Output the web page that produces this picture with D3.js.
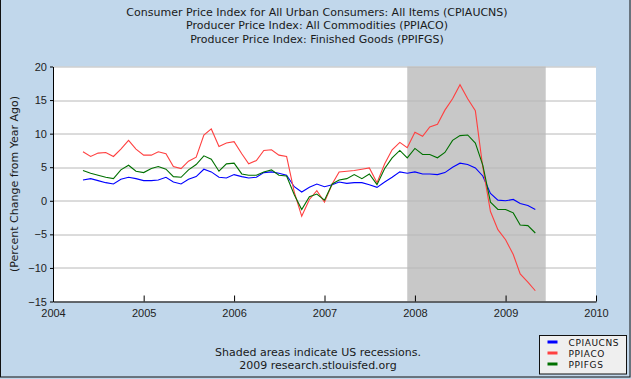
<!DOCTYPE html>
<html>
<head>
<meta charset="utf-8">
<script src="https://cdn.jsdelivr.net/npm/d3@7"></script>
<style>
  body { margin: 0; background: #c1d7eb; }
  svg { display: block; font-family: "DejaVu Sans", Verdana, sans-serif; }
</style>
</head>
<body>
<div id="chart"></div>
<script>
// monthly, May 2004 .. May 2009 (percent change from year ago)
const startMonth = "2004-05-01";
const cpiaucns = [
  3.1, 3.3, 3.0, 2.7, 2.5, 3.2, 3.5, 3.3,
  3.0, 3.0, 3.1, 3.5, 2.8, 2.5, 3.2, 3.6, 4.7, 4.3, 3.5, 3.4,
  3.9, 3.6, 3.4, 3.5, 4.2, 4.3, 4.1, 3.8, 2.1, 1.3, 2.0, 2.5,
  2.1, 2.4, 2.8, 2.6, 2.7, 2.7, 2.4, 2.0, 2.8, 3.5, 4.3, 4.1,
  4.3, 4.0, 4.0, 3.9, 4.2, 5.0, 5.6, 5.4, 4.9, 3.7, 1.1, 0.1,
  0.0, 0.2, -0.4, -0.7, -1.3
];
const ppiaco = [
  7.3, 6.6, 7.1, 7.2, 6.6, 7.7, 9.0, 7.7,
  6.8, 6.8, 7.3, 7.0, 5.1, 4.8, 5.9, 6.5, 9.8, 10.7, 8.1, 8.6,
  8.8, 7.0, 5.5, 6.0, 7.5, 7.6, 6.8, 6.6, 1.3, -2.3, 0.2, 1.5,
  -0.2, 2.5, 4.3, 4.4, 4.5, 4.7, 4.9, 2.7, 5.5, 7.6, 8.7, 7.9,
  10.2, 9.6, 11.0, 11.4, 13.5, 15.2, 17.3, 15.2, 13.4, 5.0, -1.6, -4.3,
  -5.8, -8.0, -10.9, -12.1, -13.4
];
const ppifgs = [
  4.5, 4.1, 3.8, 3.5, 3.3, 4.6, 5.3, 4.4,
  4.2, 4.8, 5.1, 4.7, 3.6, 3.5, 4.6, 5.4, 6.7, 6.2, 4.4, 5.5,
  5.6, 4.0, 3.8, 3.8, 4.3, 4.6, 3.8, 3.7, 0.9, -1.3, 0.6, 1.0,
  0.1, 2.5, 3.1, 3.3, 3.9, 3.3, 4.0, 2.4, 4.8, 6.4, 7.5, 6.4,
  7.8, 6.9, 6.9, 6.4, 7.2, 9.0, 9.7, 9.8, 8.6, 5.3, -0.2, -1.3,
  -1.3, -1.8, -3.6, -3.7, -4.8
];
const seriesNames = ["CPIAUCNS", "PPIACO", "PPIFGS"];
const seriesColors = ["#0000ff", "#ff4040", "#007000"];
const recessions = [["2007-12-01", "2009-06-12"]];
const yTicks = [-15, -10, -5, 0, 5, 10, 15, 20];
const xTickYears = [2004, 2005, 2006, 2007, 2008, 2009, 2010];
const titleLines = [
  "Consumer Price Index for All Urban Consumers: All Items (CPIAUCNS)",
  "Producer Price Index: All Commodities (PPIACO)",
  "Producer Price Index: Finished Goods (PPIFGS)"
];
const footLines = ["Shaded areas indicate US recessions.", "2009 research.stlouisfed.org"];

const W = 631, H = 379;
const margin = { top: 66.5, right: 35, bottom: 77.5, left: 53 };
const width = W - margin.left - margin.right;
const height = H - margin.top - margin.bottom;

const svg = d3.select("#chart").append("svg")
  .attr("width", W).attr("height", H);

svg.append("rect")
  .attr("x", 0.5).attr("y", -1).attr("width", W - 1.5).attr("height", H - 1)
  .attr("fill", "#c1d7eb").attr("stroke", "#111");

const g = svg.append("g").attr("transform", `translate(${margin.left},${margin.top})`);

const parse = d3.timeParse("%Y-%m-%d");
const x = d3.scaleTime()
  .domain([new Date(2004, 0, 1), new Date(2010, 0, 1)])
  .range([0, width]);
const y = d3.scaleLinear().domain([-15, 20]).range([height, 0]);

const months = cpiaucns.map((_, i) => d3.timeMonth.offset(parse(startMonth), i));

g.append("rect")
  .attr("width", width).attr("height", height).attr("fill", "#fff");

recessions.forEach(r => {
  g.append("rect")
    .attr("x", x(parse(r[0])))
    .attr("width", x(parse(r[1])) - x(parse(r[0])))
    .attr("y", 0).attr("height", height)
    .attr("fill", "#c8c8c8");
});

// grid
yTicks.forEach(t => {
  g.append("line")
    .attr("x1", 0).attr("x2", width)
    .attr("y1", Math.round(y(t)) + 0.5).attr("y2", Math.round(y(t)) + 0.5)
    .attr("stroke", "#b8b8b8");
});

const yAxis = g.append("g")
  .call(d3.axisLeft(y).tickValues(yTicks).tickSize(3).tickPadding(3).tickSizeOuter(0));
yAxis.selectAll("text").style("font-size", "11px").attr("fill", "#222");
yAxis.selectAll("line, path").attr("stroke", "#000");

const xAxis = g.append("g")
  .attr("transform", `translate(0,${height})`)
  .call(d3.axisBottom(x)
    .tickValues(xTickYears.map(yr => new Date(yr, 0, 1)))
    .tickFormat(d3.timeFormat("%Y"))
    .tickSize(-6).tickPadding(8).tickSizeOuter(0));
xAxis.selectAll("text").style("font-size", "11px").attr("fill", "#222");
xAxis.selectAll("line, path").attr("stroke", "#000");

const line = d3.line()
  .x((d, i) => x(months[i]))
  .y(d => y(d));

[cpiaucns, ppiaco, ppifgs].forEach((vals, k) => {
  g.append("path")
    .datum(vals)
    .attr("d", line)
    .attr("fill", "none")
    .attr("stroke", seriesColors[k])
    .attr("stroke-width", 1.1);
});

// titles
svg.selectAll(".title")
  .data(titleLines)
  .enter().append("text")
  .attr("x", 317)
  .attr("y", (d, i) => 15.5 + i * 13.8)
  .attr("text-anchor", "middle")
  .style("font-size", "11px")
  .attr("fill", "#1a1a1a")
  .text(d => d);

svg.append("text")
  .attr("transform", `translate(18,${margin.top + height / 2}) rotate(-90)`)
  .attr("text-anchor", "middle")
  .style("font-size", "11px")
  .attr("fill", "#1a1a1a")
  .text("(Percent Change from Year Ago)");

svg.selectAll(".foot")
  .data(footLines)
  .enter().append("text")
  .attr("x", 318)
  .attr("y", (d, i) => 355.5 + i * 13.5)
  .attr("text-anchor", "middle")
  .style("font-size", "11px")
  .attr("fill", "#1a1a1a")
  .text(d => d);

// legend
const legend = svg.append("g").attr("transform", "translate(539.5,335.5)");
legend.append("rect")
  .attr("width", 87).attr("height", 38.5)
  .attr("fill", "#efefef").attr("stroke", "#111");
seriesNames.forEach((name, i) => {
  const yy = 6.5 + i * 11;
  legend.append("line")
    .attr("x1", 8).attr("x2", 18).attr("y1", yy).attr("y2", yy)
    .attr("stroke", seriesColors[i]).attr("stroke-width", 3);
  legend.append("text")
    .attr("x", 29).attr("y", yy + 3.5)
    .style("font-size", "9px")
    .style("letter-spacing", "0.6px")
    .attr("fill", "#111")
    .text(name);
});
</script>
</body>
</html>
